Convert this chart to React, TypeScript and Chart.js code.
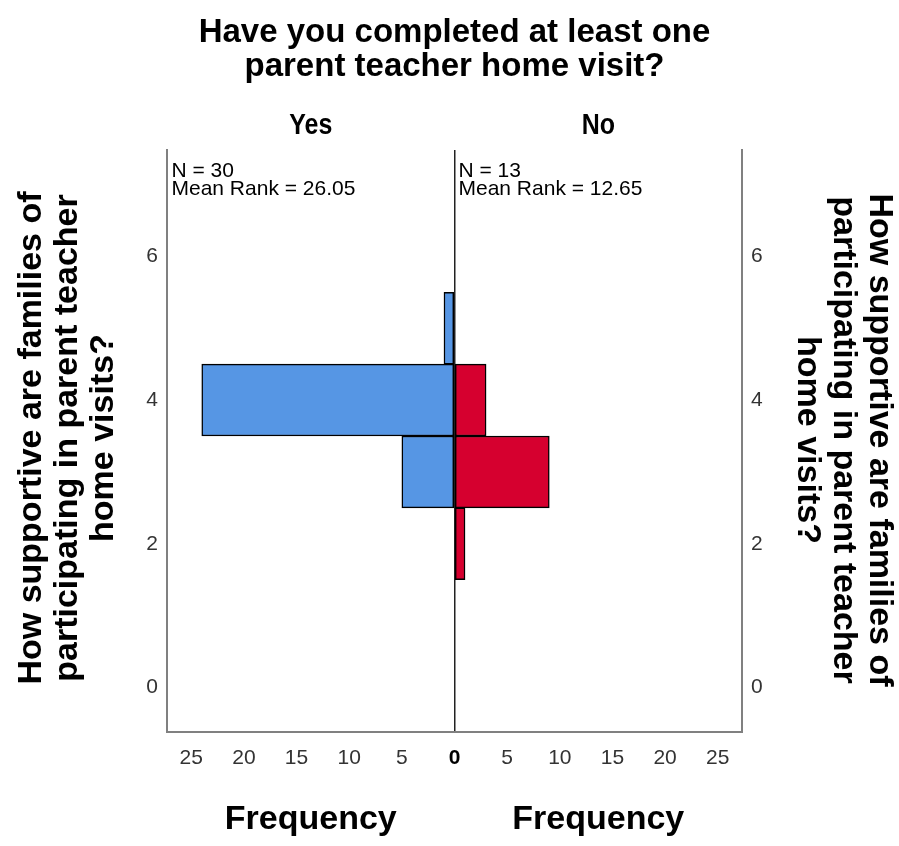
import { useEffect, useRef } from 'react';
import { Chart, registerables } from 'chart.js';

Chart.register(...registerables);

// ---- data ----
const ratingValues = [2, 3, 4, 5];
const yesFrequency = [0, 5, 24, 1];
const noFrequency = [1, 9, 3, 0];
const xTickValues = [-25, -20, -15, -10, -5, 0, 5, 10, 15, 20, 25];
const yTickValues = [0, 2, 4, 6];
const groupLabels = ['Yes', 'No'];
const groupN = ['30', '13'];
const groupMeanRank = ['26.05', '12.65'];
const titleLines = ['Have you completed at least one', 'parent teacher home visit?'];
const yTitleLines = ['How supportive are families of', 'participating in parent teacher', 'home visits?'];
const xTitle = 'Frequency';

const FONT = '"Liberation Sans", Arial, sans-serif';
const BLUE = 'rgb(86,150,228)';
const RED = 'rgb(214,0,47)';
const FRAME = '#808080';

const textPlugin = {
  id: 'sppsText',
  afterDraw(chart: any) {
    const { ctx, chartArea: a, scales } = chart;
    const x0 = scales.x.getPixelForValue(0);
    const halfCenters = [(a.left + x0) / 2, (x0 + a.right) / 2];
    const midX = (a.left + a.right) / 2;
    const midY = (a.top + a.bottom) / 2;
    ctx.save();
    ctx.fillStyle = '#000';
    ctx.textBaseline = 'alphabetic';

    // main title
    ctx.textAlign = 'center';
    ctx.font = `bold 33px ${FONT}`;
    titleLines.forEach((t, i) => ctx.fillText(t, midX, 42 + i * 34));

    // group labels (condensed bold)
    ctx.font = `bold 29px ${FONT}`;
    groupLabels.forEach((t, i) => {
      ctx.save();
      ctx.translate(halfCenters[i], 134);
      ctx.scale(0.86, 1);
      ctx.fillText(t, 0, 0);
      ctx.restore();
    });

    // x titles
    ctx.font = `bold 34px ${FONT}`;
    halfCenters.forEach((c) => ctx.fillText(xTitle, c, 829));

    // N / mean rank annotations
    ctx.textAlign = 'left';
    ctx.font = `21px ${FONT}`;
    const starts = [a.left + 4.5, x0 + 4];
    starts.forEach((sx, i) => {
      ctx.fillText(`N = ${groupN[i]}`, sx, a.top + 27);
      ctx.fillText(`Mean Rank = ${groupMeanRank[i]}`, sx, a.top + 45);
    });

    // y titles
    ctx.textAlign = 'center';
    ctx.font = `bold 34px ${FONT}`;
    yTitleLines.forEach((t, i) => {
      ctx.save();
      ctx.translate(41 + i * 36, midY - 3);
      ctx.rotate(-Math.PI / 2);
      ctx.fillText(t, 0, 0);
      ctx.restore();
      ctx.save();
      ctx.translate(870 - i * 36, midY - 1);
      ctx.rotate(Math.PI / 2);
      ctx.fillText(t, 0, 0);
      ctx.restore();
    });
    ctx.restore();
  },
};

export default function App() {
  const ref = useRef<HTMLCanvasElement>(null);
  useEffect(() => {
    const yesData = ratingValues
      .map((r, i) => ({ y: r, x: -yesFrequency[i] }))
      .filter((d) => d.x !== 0);
    const noData = ratingValues
      .map((r, i) => ({ y: r, x: noFrequency[i] }))
      .filter((d) => d.x !== 0);
    const barStyle = {
      borderColor: '#000',
      borderWidth: 1.5,
      borderSkipped: false,
      grouped: false,
      barPercentage: 1,
      categoryPercentage: 1,
      xAxisID: 'x',
      yAxisID: 'y',
    };
    const tickFont = { family: FONT, size: 21 };
    const yScale = (pos: 'left' | 'right', width: number) => ({
      type: 'linear',
      position: pos,
      offset: false,
      min: -0.62,
      max: 7.48,
      afterBuildTicks: (s: any) => {
        s.ticks = yTickValues.map((v) => ({ value: v }));
      },
      afterFit: (s: any) => {
        s.width = width;
      },
      ticks: { font: tickFont, color: '#333', padding: 9 },
      grid: { display: false, drawTicks: false, offset: false },
      border: { display: true, color: FRAME, width: 2 },
    });
    const chart = new Chart(ref.current as HTMLCanvasElement, {
      type: 'bar',
      data: {
        datasets: [
          { label: groupLabels[0], data: yesData, backgroundColor: BLUE, ...barStyle } as any,
          { label: groupLabels[1], data: noData, backgroundColor: RED, ...barStyle } as any,
        ],
      },
      options: {
        indexAxis: 'y',
        animation: false,
        responsive: true,
        maintainAspectRatio: false,
        layout: { padding: { top: 150, left: 0, right: 0, bottom: 0 } },
        plugins: {
          legend: { display: false },
          title: { display: false },
          tooltip: { enabled: false },
        },
        scales: {
          x: {
            type: 'linear',
            position: 'bottom',
            offset: false,
            min: -27.3,
            max: 27.3,
            afterBuildTicks: (s: any) => {
              s.ticks = xTickValues.map((v) => ({ value: v }));
            },
            afterFit: (s: any) => {
              s.height = 114;
            },
            ticks: {
              callback: (v: any) => String(Math.abs(Number(v))),
              font: (c: any) => ({
                family: FONT,
                size: 21,
                weight: c.tick && c.tick.value === 0 ? 'bold' : 'normal',
              }),
              color: (c: any) => (c.tick && c.tick.value === 0 ? '#000' : '#333'),
              padding: 14,
              maxRotation: 0,
              autoSkip: false,
            },
            grid: {
              drawTicks: false,
              color: (c: any) => (c.tick && c.tick.value === 0 ? '#222' : 'rgba(0,0,0,0)'),
              lineWidth: 1.5,
            },
            border: { display: true, color: FRAME, width: 2 },
          },
          y: yScale('left', 167) as any,
          y2: yScale('right', 157) as any,
        },
      } as any,
      plugins: [textPlugin],
    });
    return () => chart.destroy();
  }, []);
  return (
    <div style={{ position: 'absolute', left: 0, top: 0, width: 899, height: 846 }}>
      <canvas ref={ref} />
    </div>
  );
}
